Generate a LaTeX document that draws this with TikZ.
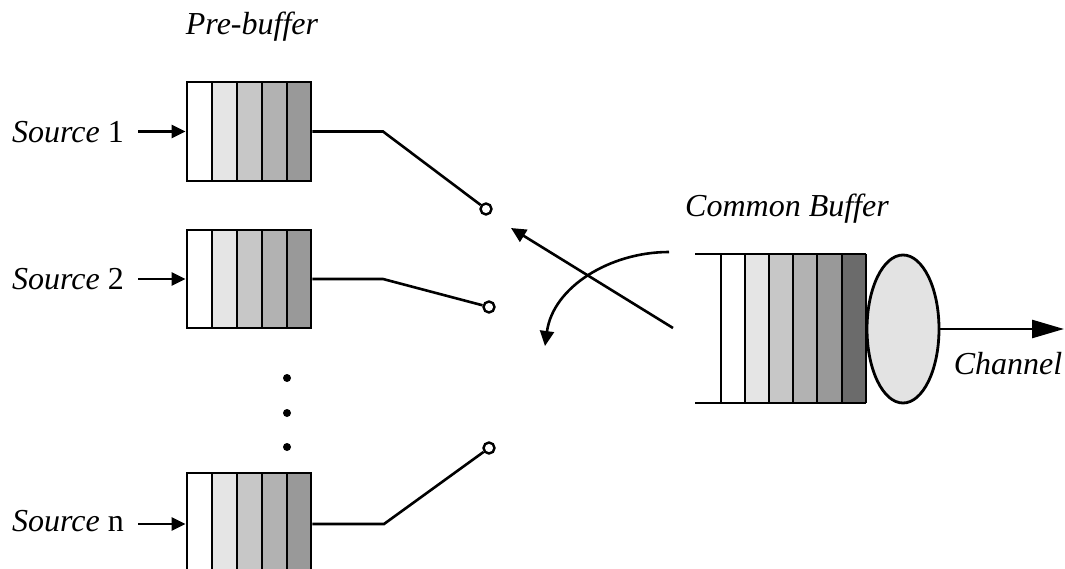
\documentclass[tikz,border=0pt]{standalone}
\usepackage{fontspec}
\setmainfont{Liberation Serif}
\usetikzlibrary{arrows.meta,shapes.geometric}
\begin{document}
\begin{tikzpicture}[x=1pt,y=-1pt,
  lbl/.style={font=\fontsize{32}{38}\selectfont, inner sep=0pt},
  srclbl/.style={lbl, anchor=base east, inner xsep=14pt},
  wire/.style={line width=2.6pt, line join=miter},
  src/.style={line width=2.6pt, -{Triangle[length=14pt,width=13pt]}},
  qborder/.style={draw, line width=2.8pt, fill=none, inner sep=0pt},
  swc/.style={circle, draw, line width=2.4pt, inner sep=0pt, minimum size=11pt, fill=white},
  cellline/.style={line width=2.4pt},
  dotn/.style={circle, fill=black, inner sep=0pt, minimum size=8pt}
]
\useasboundingbox (0,0) rectangle (1065,569);
\definecolor{gA}{gray}{0.90}
\definecolor{gB}{gray}{0.78}
\definecolor{gC}{gray}{0.70}
\definecolor{gD}{gray}{0.60}
\definecolor{gE}{gray}{0.42}

% pre-buffer cells
\foreach \yt/\yb in {82/181, 230/328, 473/575}{
  \fill[gA] (212,\yt) rectangle (237,\yb);
  \fill[gB] (237,\yt) rectangle (262,\yb);
  \fill[gC] (262,\yt) rectangle (287,\yb);
  \fill[gD] (287,\yt) rectangle (311,\yb);
  \foreach \x in {212,237,262,287}{ \draw[cellline] (\x,\yt) -- (\x,\yb); }
}
\node[qborder, minimum width=124pt, minimum height=99pt] (b1) at (249,131.5) {};
\node[qborder, minimum width=124pt, minimum height=98pt] (b2) at (249,279) {};
\node[qborder, minimum width=124pt, minimum height=102pt] (bn) at (249,524) {};

% labels
\node[lbl, anchor=base] (pre) at (252,35) {\itshape Pre-buffer};
\node[srclbl] (s1) at (138,143) {\itshape Source\/ \upshape 1};
\node[srclbl] (s2) at (138,290) {\itshape Source\/ \upshape 2};
\node[srclbl] (sn) at (138,531) {\itshape Source\/ \upshape n};

\draw[src] (s1.east |- b1.west) -- (b1.west);
\draw[src] (s2.east |- b2.west) -- (b2.west);
\draw[src] (sn.east |- bn.west) -- (bn.west);

% dots
\node[dotn] (d1) at (287,378) {};
\node[dotn] (d2) at (287,413) {};
\node[dotn] (d3) at (287,447) {};

% switch contacts
\node[swc] (c1) at (486,209) {};
\node[swc] (c2) at (489,307) {};
\node[swc] (cn) at (489,448) {};
\coordinate (k1) at (383,131.5);
\coordinate (k2) at (383,279);
\coordinate (kn) at (384,524);
\draw[wire] (b1.east) -- (k1) -- (c1);
\draw[wire] (b2.east) -- (k2) -- (c2);
\draw[wire] (bn.east) -- (kn) -- (cn);

% common buffer
\fill[gA] (745,254) rectangle (769,403);
\fill[gB] (769,254) rectangle (793,403);
\fill[gC] (793,254) rectangle (817,403);
\fill[gD] (817,254) rectangle (842,403);
\fill[gE] (842,254) rectangle (866,403);
\foreach \x in {721,745,769,793,817,842,866}{ \draw[cellline] (\x,254) -- (\x,403); }
\draw[line width=2.8pt] (695,254) -- (866,254);
\draw[line width=2.8pt] (695,403) -- (866,403);
\node[lbl, anchor=base] (cb) at (787,217) {\itshape Common Buffer};

% server
\node[ellipse, draw, line width=2.8pt, fill=black!11, minimum width=72pt, minimum height=148pt, inner sep=0pt] (srv) at (903,329) {};
\coordinate (out) at (1064,329);
\draw[line width=2.6pt, -{Triangle[length=32pt,width=18pt]}] (srv.east) -- (out);
\node[lbl, anchor=base] (ch) at (1008,374) {\itshape Channel};

% switching arrows
\coordinate (a1s) at (673,328);
\coordinate (a1e) at (511,228);
\draw[line width=2.6pt, -{Triangle[length=15pt,width=14pt]}] (a1s) -- (a1e);
\coordinate (a2s) at (669,252);
\coordinate (a2e) at (545,346);
\draw[line width=2.6pt, -{Triangle[length=15pt,width=14pt]}] (a2s) .. controls (610,252) and (553,287) .. (a2e);
\end{tikzpicture}
\end{document}
